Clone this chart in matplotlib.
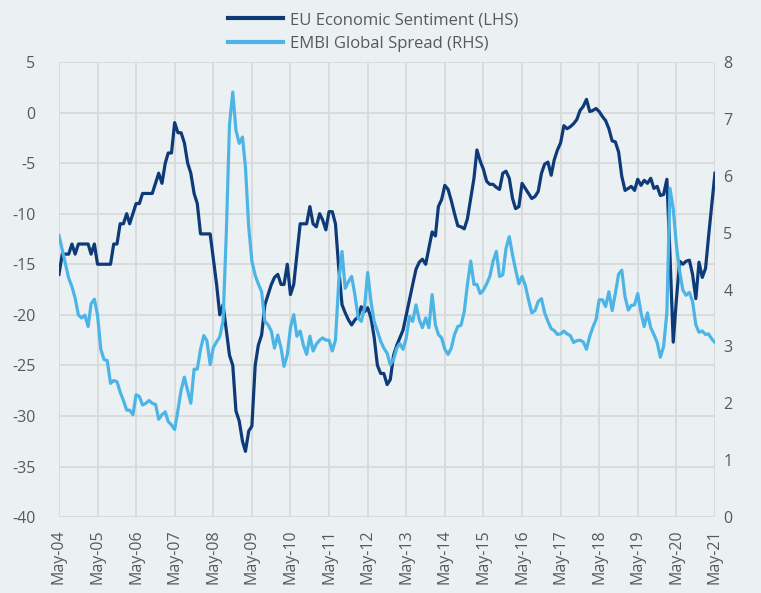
import matplotlib
matplotlib.use("Agg")
import matplotlib.pyplot as plt
import matplotlib.dates as mdates
import pandas as pd

plt.rcParams['font.family'] = ['Open Sans', 'DejaVu Sans']
plt.rcParams['axes.unicode_minus'] = False

start = "2004-05-01"
eu_sentiment = [
    -16, -14, -14, -14, -13, -14, -13, -13, -13, -13, -14, -13,
    -15, -15, -15, -15, -15, -13, -13, -11, -11, -10, -11, -10,
    -9, -9, -8, -8, -8, -8, -7, -6, -7, -5, -4, -4,
    -1, -2, -2, -3, -5, -6, -8, -9, -12, -12, -12, -12,
    -14.5, -17, -20, -19, -21.5, -24, -25, -29.5, -30.5, -32.5, -33.5, -31.5,
    -31, -25, -23, -22, -19, -18, -17, -16.3, -16, -17, -17, -15,
    -18, -17, -14, -11, -11, -11, -9.3, -11, -11.3, -10, -10.6, -11.6,
    -9.8, -9.8, -11, -15.4, -19, -19.8, -20.5, -21, -20.5, -20.2, -19.2, -19.7,
    -19.3, -20.3, -22.2, -25, -25.8, -25.8, -26.9, -26.4, -24, -23, -22.3, -21.5,
    -20, -18.5, -17, -15.5, -14.8, -14.5, -15, -13.4, -11.8, -12.2, -9.3, -8.6,
    -7.2, -7.6, -8.7, -10, -11.2, -11.3, -11.5, -10.5, -8.5, -6.5, -3.7, -4.8,
    -5.6, -6.8, -7.1, -7.1, -7.4, -7.6, -6, -5.8, -6.5, -8.5, -9.5, -9.3,
    -7, -7.5, -8, -8.5, -8.3, -7.8, -6, -5.1, -4.9, -6.2, -4.7, -3.7,
    -3, -1.3, -1.6, -1.4, -1.1, -0.7, 0.2, 0.6, 1.3, 0.1, 0.2, 0.4,
    0.1, -0.4, -0.8, -1.6, -2.8, -2.9, -3.9, -6.3, -7.7, -7.5, -7.3, -7.7,
    -6.6, -7.2, -6.7, -7, -6.5, -7.5, -7.3, -8.2, -8.1, -6.6, -14, -22.7,
    -18.5, -14.7, -15, -14.7, -14.6, -16, -18.4, -14.8, -16.3, -15.4, -12.3, -9.1,
    -6,
]
embi_spread = [
    4.95, 4.7, 4.45, 4.2, 4.05, 3.85, 3.55, 3.5, 3.55, 3.35, 3.75, 3.83,
    3.55, 2.95, 2.77, 2.75, 2.35, 2.4, 2.38, 2.2, 2.05, 1.88, 1.88, 1.8,
    2.15, 2.12, 1.97, 2.0, 2.05, 2.0, 1.98, 1.72, 1.8, 1.85, 1.68, 1.62,
    1.54, 1.88, 2.23, 2.46, 2.22, 2.0, 2.6, 2.6, 2.95, 3.19, 3.1, 2.68,
    2.98, 3.08, 3.17, 3.45, 5.0, 6.9, 7.47, 6.8, 6.57, 6.68, 6.15, 5.1,
    4.5, 4.25, 4.1, 3.96, 3.44, 3.38, 3.27, 2.97, 3.2, 2.97, 2.65, 2.85,
    3.33, 3.56, 3.18, 3.27, 3.02, 2.86, 3.18, 2.92, 3.04, 3.11, 3.15, 3.11,
    3.11, 2.92, 3.11, 4.14, 4.67, 4.02, 4.14, 4.23, 3.91, 3.5, 3.44, 3.68,
    4.3, 3.79, 3.44, 3.27, 3.09, 2.97, 2.88, 2.68, 2.77, 2.97, 3.05, 2.95,
    3.15, 3.53, 3.44, 3.73, 3.47, 3.33, 3.5, 3.33, 3.91, 3.38, 3.21, 3.15,
    2.95, 2.86, 2.97, 3.21, 3.35, 3.37, 3.61, 4.09, 4.5, 4.09, 4.09, 3.93,
    3.99, 4.1, 4.23, 4.5, 4.67, 4.23, 4.26, 4.72, 4.93, 4.61, 4.35, 4.1,
    4.23, 4.07, 3.82, 3.59, 3.63, 3.79, 3.84, 3.59, 3.44, 3.31, 3.28, 3.21,
    3.22, 3.27, 3.22, 3.19, 3.07, 3.1, 3.11, 3.08, 2.95, 3.18, 3.33, 3.47,
    3.82, 3.82, 3.7, 3.96, 3.63, 3.93, 4.27, 4.34, 3.87, 3.64, 3.72, 3.73,
    3.93, 3.59, 3.35, 3.59, 3.33, 3.21, 3.07, 2.81, 3.0, 3.6, 5.78, 5.42,
    4.78, 4.32, 3.99, 3.9, 3.95, 3.79, 3.38, 3.25, 3.27, 3.21, 3.22, 3.13,
    3.07,
]
left_ticks = [5, 0, -5, -10, -15, -20, -25, -30, -35, -40]
right_ticks = [0, 1, 2, 3, 4, 5, 6, 7, 8]
label_eu = "EU Economic Sentiment (LHS)"
label_embi = "EMBI Global Spread (RHS)"

dates = pd.date_range(start, periods=len(eu_sentiment), freq="MS")

BG = "#ebf0f3"
DARK = "#0e3b78"
LIGHT = "#4cb5e6"
TXT = "#595959"
GRID = "#d9d9d9"

fig = plt.figure(figsize=(7.61, 5.93), dpi=100, facecolor=BG)
ax = fig.add_axes([0.0775, 0.128, 0.862, 0.7675])
ax.set_facecolor(BG)
ax2 = ax.twinx()

l1, = ax.plot(dates, eu_sentiment, color=DARK, lw=2.3, solid_joinstyle="round",
              label=label_eu, zorder=3)
l2, = ax2.plot(dates, embi_spread, color=LIGHT, lw=2.3, solid_joinstyle="round",
               label=label_embi, zorder=3)

ax.set_ylim(-40, 5)
ax.set_yticks(left_ticks)
ax2.set_ylim(0, 8)
ax2.set_yticks(right_ticks)

ax.set_xlim(dates[0], dates[-1])
ax.xaxis.set_major_locator(mdates.MonthLocator(bymonth=5))
ax.xaxis.set_major_formatter(mdates.DateFormatter("%b-%y"))

ax.grid(True, color=GRID, lw=1.3)
ax.set_axisbelow(True)
for a in (ax, ax2):
    for s in a.spines.values():
        s.set_visible(False)
    a.tick_params(length=0, colors=TXT, labelsize=11.5)
ax.tick_params(axis="y", pad=17)
ax2.tick_params(axis="y", pad=6)
ax.tick_params(axis="x", pad=9, labelsize=11.5)
for lab in ax.get_xticklabels():
    lab.set_rotation(90)

leg = fig.legend(handles=[l1, l2], loc="upper center", bbox_to_anchor=(0.49, 1.005),
                 frameon=False, fontsize=12, handlelength=3.3, labelspacing=0.45,
                 handletextpad=0.4)
for t in leg.get_texts():
    t.set_color(TXT)
for h in leg.get_lines():
    h.set_linewidth(3)

fig.savefig("out.png", dpi=100, facecolor=BG)
